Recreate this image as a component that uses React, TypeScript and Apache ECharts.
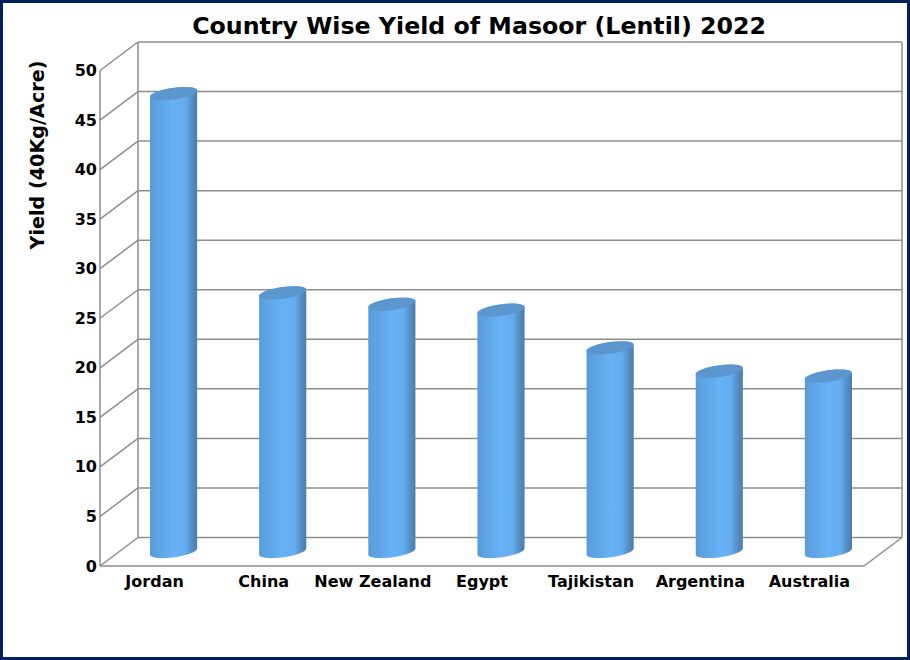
import React, { useEffect, useRef } from "react";
import * as echarts from "echarts";

const categories = ["Jordan", "China", "New Zealand", "Egypt", "Tajikistan", "Argentina", "Australia"];
const yields = [46.35, 26.25, 25.1, 24.5, 20.7, 18.35, 17.85];
const ticks = [0, 5, 10, 15, 20, 25, 30, 35, 40, 45, 50];

const DX = 38;
const DY = -28.5;
const FONT = "'DejaVu Sans', sans-serif";
const GRID = "#8e8e8e";

function ellipseArc(cx: number, cy: number, from: number, to: number) {
  const rx = 23.8;
  const ry = 5.8;
  const r = (-8 * Math.PI) / 180;
  const steps = 40;
  const out: string[] = [];
  for (let i = 0; i <= steps; i++) {
    const a = from + ((to - from) * i) / steps;
    const ex = rx * Math.cos(a);
    const ey = ry * Math.sin(a);
    const x = cx + ex * Math.cos(r) - ey * Math.sin(r);
    const y = cy + ex * Math.sin(r) + ey * Math.cos(r);
    out.push(`${x.toFixed(2)} ${y.toFixed(2)}`);
  }
  return out;
}

export default function App() {
  const ref = useRef<HTMLDivElement>(null);
  useEffect(() => {
    const chart = echarts.init(ref.current!, null, { renderer: "svg" });
    const line = (x1: number, y1: number, x2: number, y2: number, w = 1.5) => ({
      type: "line",
      shape: { x1, y1, x2, y2 },
      style: { stroke: GRID, lineWidth: w, fill: "none" },
    });
    chart.setOption({
      animation: false,
      backgroundColor: "#ffffff",
      title: {
        text: "Country Wise Yield of Masoor (Lentil) 2022",
        left: 474,
        top: 9,
        textAlign: "center",
        textStyle: { fontFamily: FONT, fontWeight: "bold", fontSize: 23.7, color: "#000" },
      },
      graphic: [
        {
          type: "rect",
          shape: { x: 1.5, y: 1.5, width: 907, height: 657 },
          style: { fill: "none", stroke: "#002060", lineWidth: 3 },
          z: 100,
        },
        {
          type: "text",
          x: 37,
          y: 155,
          rotation: Math.PI / 2,
          style: {
            text: "Yield (40Kg/Acre)",
            fontFamily: FONT,
            fontWeight: "bold",
            fontSize: 19.2,
            fill: "#000",
            textAlign: "center",
            textVerticalAlign: "middle",
          },
        },
      ],
      grid: { left: 100, right: 46, top: 70.5, bottom: 94, containLabel: false },
      xAxis: {
        type: "category",
        data: categories,
        axisLine: { show: false },
        axisTick: { show: false },
        axisLabel: {
          interval: 0,
          margin: 7,
          fontFamily: FONT,
          fontWeight: "bold",
          fontSize: 16,
          color: "#000",
        },
      },
      yAxis: {
        type: "value",
        min: 0,
        max: 50,
        interval: 5,
        splitLine: { show: false },
        axisLine: { show: false },
        axisTick: { show: false },
        axisLabel: { margin: 3, fontFamily: FONT, fontWeight: "bold", fontSize: 16, color: "#000" },
      },
      series: [
        {
          type: "custom",
          coordinateSystem: "cartesian2d",
          clip: false,
          silent: true,
          z: 1,
          data: ticks.map((t) => [0, t]),
          encode: { x: 0, y: 1 },
          renderItem: (params: any, api: any) => {
            const cs = params.coordSys;
            const y = api.coord([0, api.value(1)])[1];
            const x0 = cs.x;
            const x1 = cs.x + cs.width;
            const children: any[] = [
              line(x0, y, x0 + DX, y + DY),
              line(x0 + DX, y + DY, x1 + DX, y + DY),
            ];
            if (params.dataIndex === 0) {
              children.push(
                line(x0, cs.y, x0, cs.y + cs.height),
                line(x0 + DX, cs.y + DY, x0 + DX, cs.y + cs.height + DY),
                line(x1 + DX, cs.y + DY, x1 + DX, cs.y + cs.height + DY),
                line(x0, y, x1, y),
                line(x1, y, x1 + DX, y + DY)
              );
            }
            return { type: "group", children };
          },
        },
        {
          type: "custom",
          coordinateSystem: "cartesian2d",
          clip: false,
          silent: true,
          z: 2,
          data: yields.map((v, i) => [i, v]),
          encode: { x: 0, y: 1 },
          renderItem: (_params: any, api: any) => {
            const top = api.coord([api.value(0), api.value(1)]);
            const base = api.coord([api.value(0), 0]);
            const cx = top[0] + 19;
            const ty = top[1] - 13;
            const by = base[1] - 14.5;
            const lower = ellipseArc(cx, by, Math.PI, 0);
            const upper = ellipseArc(cx, ty, 0, -Math.PI);
            const body = "M" + lower.concat(upper).join("L") + "Z";
            const cap = "M" + ellipseArc(cx, ty, 0, 2 * Math.PI).join("L") + "Z";
            return {
              type: "group",
              children: [
                {
                  type: "path",
                  shape: { pathData: body },
                  style: {
                    fill: new echarts.graphic.LinearGradient(0, 0, 1, 0, [
                      { offset: 0, color: "#5a9bd8" },
                      { offset: 0.12, color: "#5da2e0" },
                      { offset: 0.5, color: "#67b1f6" },
                      { offset: 0.75, color: "#64adf0" },
                      { offset: 0.88, color: "#5690c8" },
                      { offset: 1, color: "#4a7dac" },
                    ]),
                    stroke: "none",
                  },
                },
                {
                  type: "path",
                  shape: { pathData: cap },
                  style: { fill: "#5b96cf", stroke: "none" },
                },
              ],
            };
          },
        },
      ],
    });
    return () => chart.dispose();
  }, []);
  return <div ref={ref} style={{ position: "fixed", left: 0, top: 0, width: 910, height: 660 }} />;
}
